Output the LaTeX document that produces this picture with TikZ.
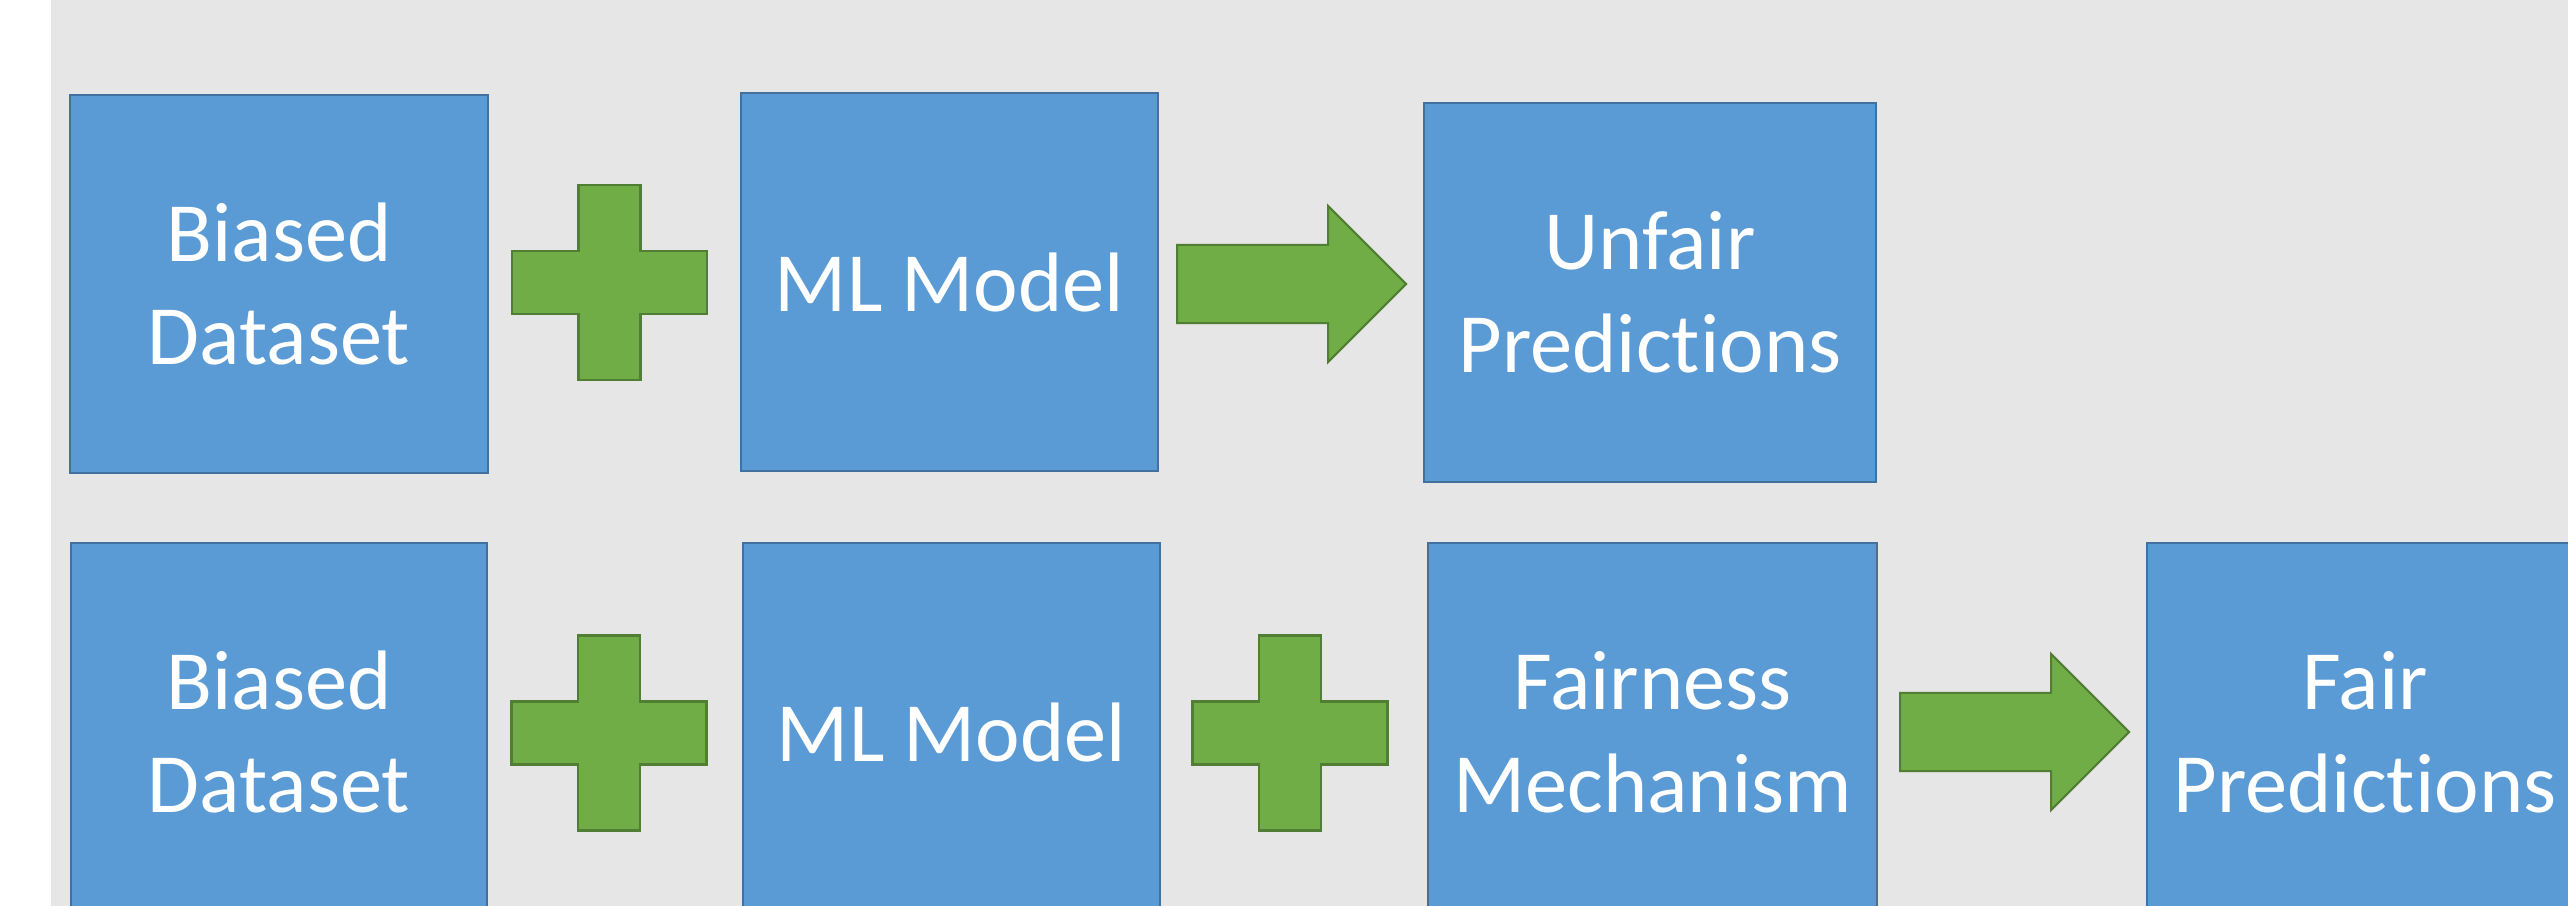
\documentclass[tikz,border=0pt]{standalone}
\usepackage{fontspec}
\setmainfont{Carlito}[Ligatures=CommonOff]
\usetikzlibrary{shapes.arrows}
\definecolor{boxblue}{HTML}{5B9BD5}
\definecolor{boxedge}{HTML}{41719C}
\definecolor{opgreen}{HTML}{70AD47}
\definecolor{opedge}{HTML}{507E32}
\definecolor{slidegray}{HTML}{E6E6E6}
\tikzset{
  block/.style={rectangle,draw=boxedge,line width=0.6pt,fill=boxblue,
                minimum height=3.78cm,inner sep=0pt,align=center,text=white,
                font=\fontsize{24}{29.2}\selectfont},
  pointer/.style={single arrow,draw=opedge,line width=0.6pt,fill=opgreen,
                  minimum height=2.29cm,inner xsep=0pt,inner ysep=0.38cm,
                  single arrow head extend=0.39cm,anchor=tail},
  plusop/.style={draw=opedge,line width=0.6pt,fill=opgreen},
}

\begin{document}
\begin{tikzpicture}[x=0.01cm,y=-0.01cm]
\useasboundingbox (0,0) rectangle (2568,906);
\clip (0,0) rectangle (2568,906);
\fill[white] (0,0) rectangle (2568,906);
\fill[slidegray] (51,0) rectangle (2568,906);

% plain pipeline
\node[block,minimum width=4.18cm] (bias1) at (279,284) {Biased\\Dataset};
\node[block,minimum width=4.17cm] (model1) at (949.5,282) {ML Model};
\node[block,minimum width=4.52cm] (unfair) at (1650,292.5) {Unfair\\Predictions};
\node[pointer] (arr1) at (1176,284) {};

% pipeline with the extra stage
\node[block,minimum width=4.16cm] (bias2) at (279,732) {Biased\\Dataset};
\node[block,minimum width=4.17cm] (model2) at (951.5,732) {ML Model};
\node[block,minimum width=4.49cm] (mech) at (1652.5,732) {Fairness\\Mechanism};
\node[block,minimum width=4.36cm] (fair) at (2365,732) {Fair\\Predictions};
\node[pointer] (arr2) at (1899,732) {};

% plus signs
\coordinate (plus1) at (609.5,282.5);
\coordinate (plus2) at (609,733);
\coordinate (plus3) at (1290,733);
\foreach \c in {plus1,plus2,plus3}
  \draw[plusop] (\c) ++(-31,-97.5) -- ++(62,0) -- ++(0,66) -- ++(66.5,0)
    -- ++(0,63) -- ++(-66.5,0) -- ++(0,66) -- ++(-62,0) -- ++(0,-66)
    -- ++(-66.5,0) -- ++(0,-63) -- ++(66.5,0) -- cycle;
\end{tikzpicture}
\end{document}
